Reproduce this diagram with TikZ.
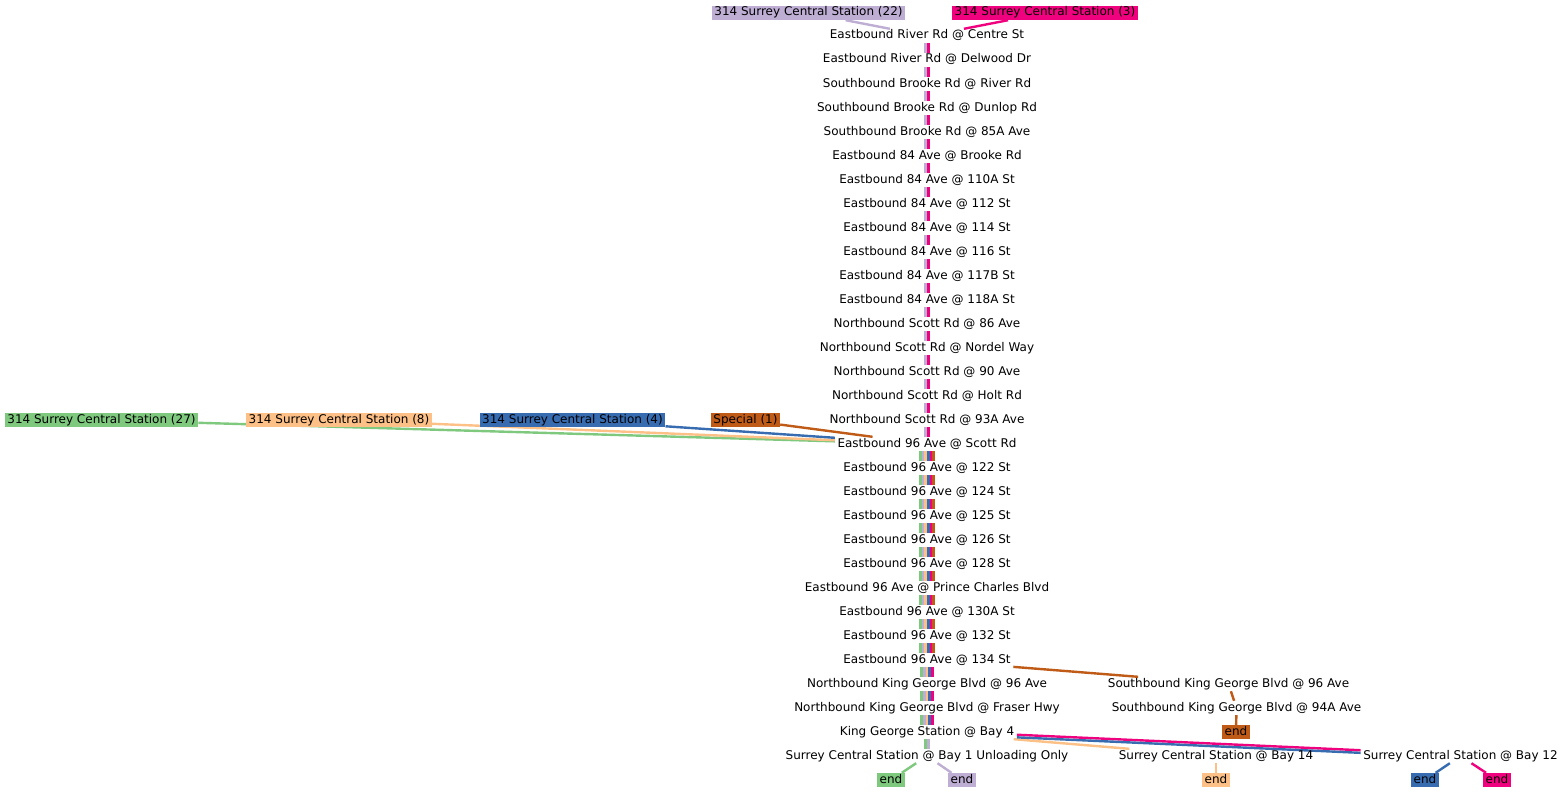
\documentclass[tikz,border=0pt]{standalone}
\usepackage{fontspec}
\setmainfont{DejaVu Sans}
\usetikzlibrary{positioning,calc,backgrounds}

\definecolor{rgreen}{HTML}{7FC97F}
\definecolor{rpurple}{HTML}{BEAED4}
\definecolor{rorange}{HTML}{FDC086}
\definecolor{rblue}{HTML}{386CB0}
\definecolor{rmagenta}{HTML}{F0027F}
\definecolor{rbrown}{HTML}{BF5B17}

\begin{document}
\begin{tikzpicture}[x=1pt, y=-1pt,
  stop/.style={font=\fontsize{12}{14}\selectfont, inner xsep=2.5pt, inner ysep=1.5pt, text height=8.5pt, text depth=2.5pt},
  tag/.style={stop, fill=#1},
  route/.style={line width=2.4pt, draw=#1}]
  \newcommand\dw{2.7}
  \newcommand\stripes[4]{% from, to, count, colours
    \foreach \c [count=\i] in {#4} {
      \pgfmathsetmacro\off{(\i-(#3+1)/2)*\dw}
      \draw[line width=\dw pt, \c] ([xshift=\off pt]s#1.south) -- ([xshift=\off pt]s#2.north);
    }
  }
  \useasboundingbox (0,0) rectangle (1566,792);

  \begin{scope}[shift={(0,2)}]
  % stops of the main column
  \foreach \n/\t in {1/Eastbound River Rd @ Centre St, 2/Eastbound River Rd @ Delwood Dr,
      3/Southbound Brooke Rd @ River Rd, 4/Southbound Brooke Rd @ Dunlop Rd,
      5/Southbound Brooke Rd @ 85A Ave, 6/Eastbound 84 Ave @ Brooke Rd,
      7/Eastbound 84 Ave @ 110A St, 8/Eastbound 84 Ave @ 112 St,
      9/Eastbound 84 Ave @ 114 St, 10/Eastbound 84 Ave @ 116 St,
      11/Eastbound 84 Ave @ 117B St, 12/Eastbound 84 Ave @ 118A St,
      13/Northbound Scott Rd @ 86 Ave, 14/Northbound Scott Rd @ Nordel Way,
      15/Northbound Scott Rd @ 90 Ave, 16/Northbound Scott Rd @ Holt Rd,
      17/Northbound Scott Rd @ 93A Ave, 18/Eastbound 96 Ave @ Scott Rd,
      19/Eastbound 96 Ave @ 122 St, 20/Eastbound 96 Ave @ 124 St,
      21/Eastbound 96 Ave @ 125 St, 22/Eastbound 96 Ave @ 126 St,
      23/Eastbound 96 Ave @ 128 St, 24/Eastbound 96 Ave @ Prince Charles Blvd,
      25/Eastbound 96 Ave @ 130A St, 26/Eastbound 96 Ave @ 132 St,
      27/Eastbound 96 Ave @ 134 St, 28/Northbound King George Blvd @ 96 Ave,
      29/Northbound King George Blvd @ Fraser Hwy, 30/King George Station @ Bay 4,
      31/Surrey Central Station @ Bay 1 Unloading Only}
    \node[stop] (s\n) at (927, 10+24*\n) {\t};

  % route heads
  \node[tag=rpurple] (h22) at (808.5,11) {314 Surrey Central Station (22)};
  \node[tag=rmagenta] (h3) at (1045,11) {314 Surrey Central Station (3)};
  \node[tag=rgreen] (h27) at (101.5,418) {314 Surrey Central Station (27)};
  \node[tag=rorange] (h8) at (339,418) {314 Surrey Central Station (8)};
  \node[tag=rblue] (h4) at (572.5,418) {314 Surrey Central Station (4)};
  \node[tag=rbrown] (sp1) at (745.5,418) {Special (1)};

  % side stops
  \node[stop] (sb96) at (1228.5,682) {Southbound King George Blvd @ 96 Ave};
  \node[stop] (sb94) at (1236.5,706) {Southbound King George Blvd @ 94A Ave};
  \node[stop] (bay14) at (1216,754) {Surrey Central Station @ Bay 14};
  \node[stop] (bay12) at (1460.5,754) {Surrey Central Station @ Bay 12};

  % ends
  \node[tag=rbrown] (e6) at (1236,730) {end};
  \node[tag=rgreen] (e1) at (891,778) {end};
  \node[tag=rpurple] (e2) at (962,778) {end};
  \node[tag=rorange] (e3) at (1216,778) {end};
  \node[tag=rblue] (e4) at (1425,778) {end};
  \node[tag=rmagenta] (e5) at (1497,778) {end};
%
  \foreach \n in {1,...,17} {\pgfmathtruncatemacro\m{\n+1}\stripes{\n}{\m}{2}{rpurple,rmagenta}}
  \foreach \n in {18,...,26} {\pgfmathtruncatemacro\m{\n+1}\stripes{\n}{\m}{6}{rgreen,rpurple,rorange,rblue,rmagenta,rbrown}}
  \foreach \n in {27,28,29} {\pgfmathtruncatemacro\m{\n+1}\stripes{\n}{\m}{5}{rgreen,rpurple,rorange,rblue,rmagenta}}
  \stripes{30}{31}{2}{rgreen,rpurple}
%
  \begin{pgfonlayer}{background}
  \draw[route=rpurple] (h22) -- (s1);
  \draw[route=rmagenta] (h3) -- (s1);
  \draw[route=rgreen] (h27) -- (s18);
  \draw[route=rorange] (h8) -- (s18);
  \draw[route=rblue] (h4) -- (s18);
  \draw[route=rbrown] (sp1) -- (s18);
  \draw[route=rbrown] (s27) -- (sb96);
  \draw[route=rbrown] (sb96) -- (sb94);
  \draw[route=rbrown] (sb94) -- (e6);
  \draw[route=rorange] (s30) -- (bay14);
  \draw[route=rmagenta, transform canvas={yshift=1.3pt}] (s30) -- (bay12);
  \draw[route=rblue, transform canvas={yshift=-1.3pt}] (s30) -- (bay12);
  \draw[route=rgreen] (s31) -- (e1);
  \draw[route=rpurple] (s31) -- (e2);
  \draw[route=rorange] (bay14) -- (e3);
  \draw[route=rblue] (bay12) -- (e4);
  \draw[route=rmagenta] (bay12) -- (e5);
  \end{pgfonlayer}
  \end{scope}
\end{tikzpicture}
\end{document}
